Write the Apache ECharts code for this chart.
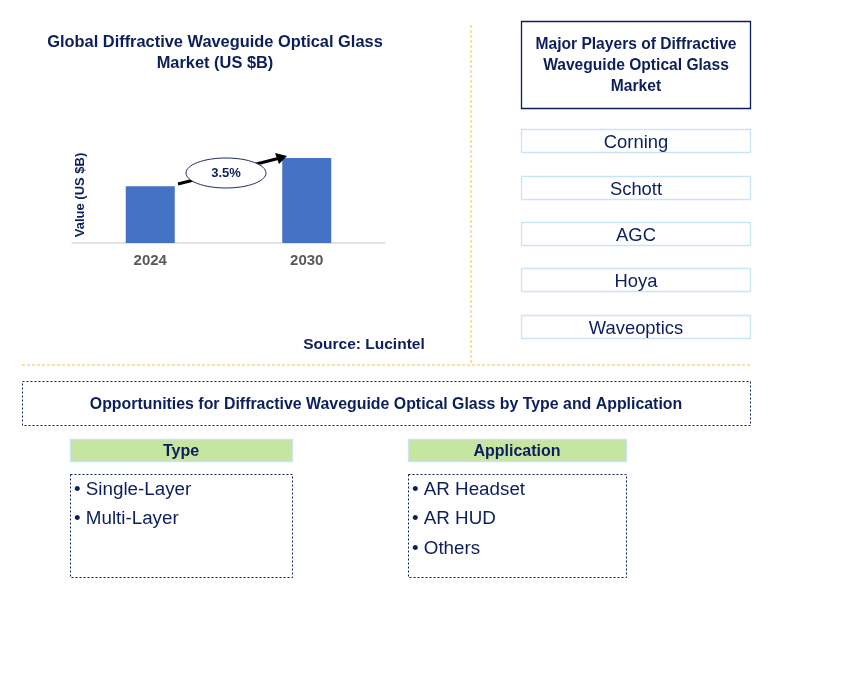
<!DOCTYPE html>
<html><head><meta charset="utf-8">
<script src="https://cdn.jsdelivr.net/npm/echarts@6/dist/echarts.min.js"></script>
<style>html,body{margin:0;padding:0;background:#fff}#c{width:845px;height:679px}</style>
</head><body><div id="c"></div>
<script>
var years = ['2024', '2030'];
var values = [2.0, 3.0];
var cagrText = '3.5%';
var chartTitle = ['Global Diffractive Waveguide Optical Glass', 'Market (US $B)'];
var playersTitle = ['Major Players of Diffractive', 'Waveguide Optical Glass', 'Market'];
var players = ['Corning', 'Schott', 'AGC', 'Hoya', 'Waveoptics'];
var oppTitle = 'Opportunities for Diffractive Waveguide Optical Glass by Type and Application';
var typeItems = ['Single-Layer', 'Multi-Layer'];
var appItems = ['AR Headset', 'AR HUD', 'Others'];
var sourceText = 'Source: Lucintel';

var NAVY = '#0c1f5c';
var FONT = 'Liberation Sans, Arial, sans-serif';
var chart = echarts.init(document.getElementById('c'), null, {renderer: 'canvas'});

var g = [];
function txt(x, y, s, size, weight, color, align) {
  g.push({type: 'text', x: x, y: y, style: {text: s, x: 0, y: 0, fill: color || NAVY, font: (weight || 'normal') + ' ' + size + 'px ' + FONT, textAlign: align || 'center', textVerticalAlign: 'middle'}});
}
function rect(x, y, w, h, stroke, fill, lw, dash) {
  g.push({type: 'rect', shape: {x: x, y: y, width: w, height: h}, style: {fill: fill || 'none', stroke: stroke, lineWidth: lw || 1, lineDash: dash || null}});
}
// titles
txt(215, 42.5, chartTitle[0], 16.4, 'bold');
txt(215, 63.5, chartTitle[1], 16.4, 'bold');
txt(364, 345, sourceText, 15.5, 'bold');
// separators
g.push({type: 'line', shape: {x1: 471, y1: 25, x2: 471, y2: 364}, style: {stroke: '#f5c242', lineWidth: 1, lineDash: [3, 2]}});
g.push({type: 'line', shape: {x1: 22, y1: 365, x2: 750, y2: 365}, style: {stroke: '#f5c242', lineWidth: 1.2, lineDash: [3, 2]}});
// players
rect(521.5, 21.5, 229, 87, NAVY, '#fff', 1.3);
for (var i = 0; i < playersTitle.length; i++) txt(636, 44.5 + i * 21, playersTitle[i], 15.6, 'bold');
var pY = [129, 176, 222, 268, 315];
for (var j = 0; j < players.length; j++) {
  rect(521.5, pY[j] + 0.5, 229, 23, '#c9e4f5', '#fff', 1.3);
  txt(636, pY[j] + 13.5, players[j], 18.4, 'normal');
}
// opportunities
rect(22.5, 381.5, 728, 44, NAVY, '#fff', 1, [2, 2]);
txt(386, 404.5, oppTitle, 15.9, 'bold');
rect(70.5, 439.5, 222, 22, '#c9e4f5', '#c6e5a0', 1.3);
txt(181, 451.5, 'Type', 16, 'bold');
rect(408.5, 439.5, 218, 22, '#c9e4f5', '#c6e5a0', 1.3);
txt(517, 451.5, 'Application', 16, 'bold');
rect(70.5, 474.5, 222, 103, NAVY, '#fff', 1, [2, 2]);
rect(408.5, 474.5, 218, 103, NAVY, '#fff', 1, [2, 2]);
for (var a = 0; a < typeItems.length; a++) txt(74, 489.5 + a * 29.5, '\u2022 ' + typeItems[a], 18.8, 'normal', NAVY, 'left');
for (var b = 0; b < appItems.length; b++) txt(412, 489.5 + b * 29.5, '\u2022 ' + appItems[b], 18.8, 'normal', NAVY, 'left');
// arrow + ellipse
g.push({type: 'line', shape: {x1: 178, y1: 184, x2: 278, y2: 158.5}, style: {stroke: '#000', lineWidth: 3}, z: 10});
g.push({type: 'polygon', shape: {points: [[287, 156], [275, 153], [279, 164]]}, style: {fill: '#000'}, z: 10});
g.push({type: 'ellipse', shape: {cx: 226, cy: 173, rx: 40, ry: 15}, style: {fill: '#fff', stroke: '#1f2d5a', lineWidth: 1}, z: 11});
txt(226, 173.5, cagrText, 13, 'bold');
g[g.length - 1].z = 12;

chart.setOption({
  animation: false,
  grid: {left: 72, right: 460, top: 147, bottom: 679 - 243},
  xAxis: {type: 'category', data: years,
    axisLine: {lineStyle: {color: '#d9d9d9', width: 1.5}}, axisTick: {show: false},
    axisLabel: {color: '#595959', fontWeight: 'bold', fontSize: 15, fontFamily: FONT, margin: 10}},
  yAxis: {type: 'value', min: 0, max: 3.39, show: true, axisLine: {show: false}, axisTick: {show: false},
    axisLabel: {show: false}, splitLine: {show: false},
    name: 'Value (US $B)', nameLocation: 'middle', nameGap: -15, nameRotate: 90,
    nameTextStyle: {color: NAVY, fontSize: 13, fontWeight: 'bold', fontFamily: FONT}},
  series: [{type: 'bar', data: values, barWidth: 49, itemStyle: {color: '#4472c4'}, silent: true}],
  graphic: g
});
</script></body></html>
